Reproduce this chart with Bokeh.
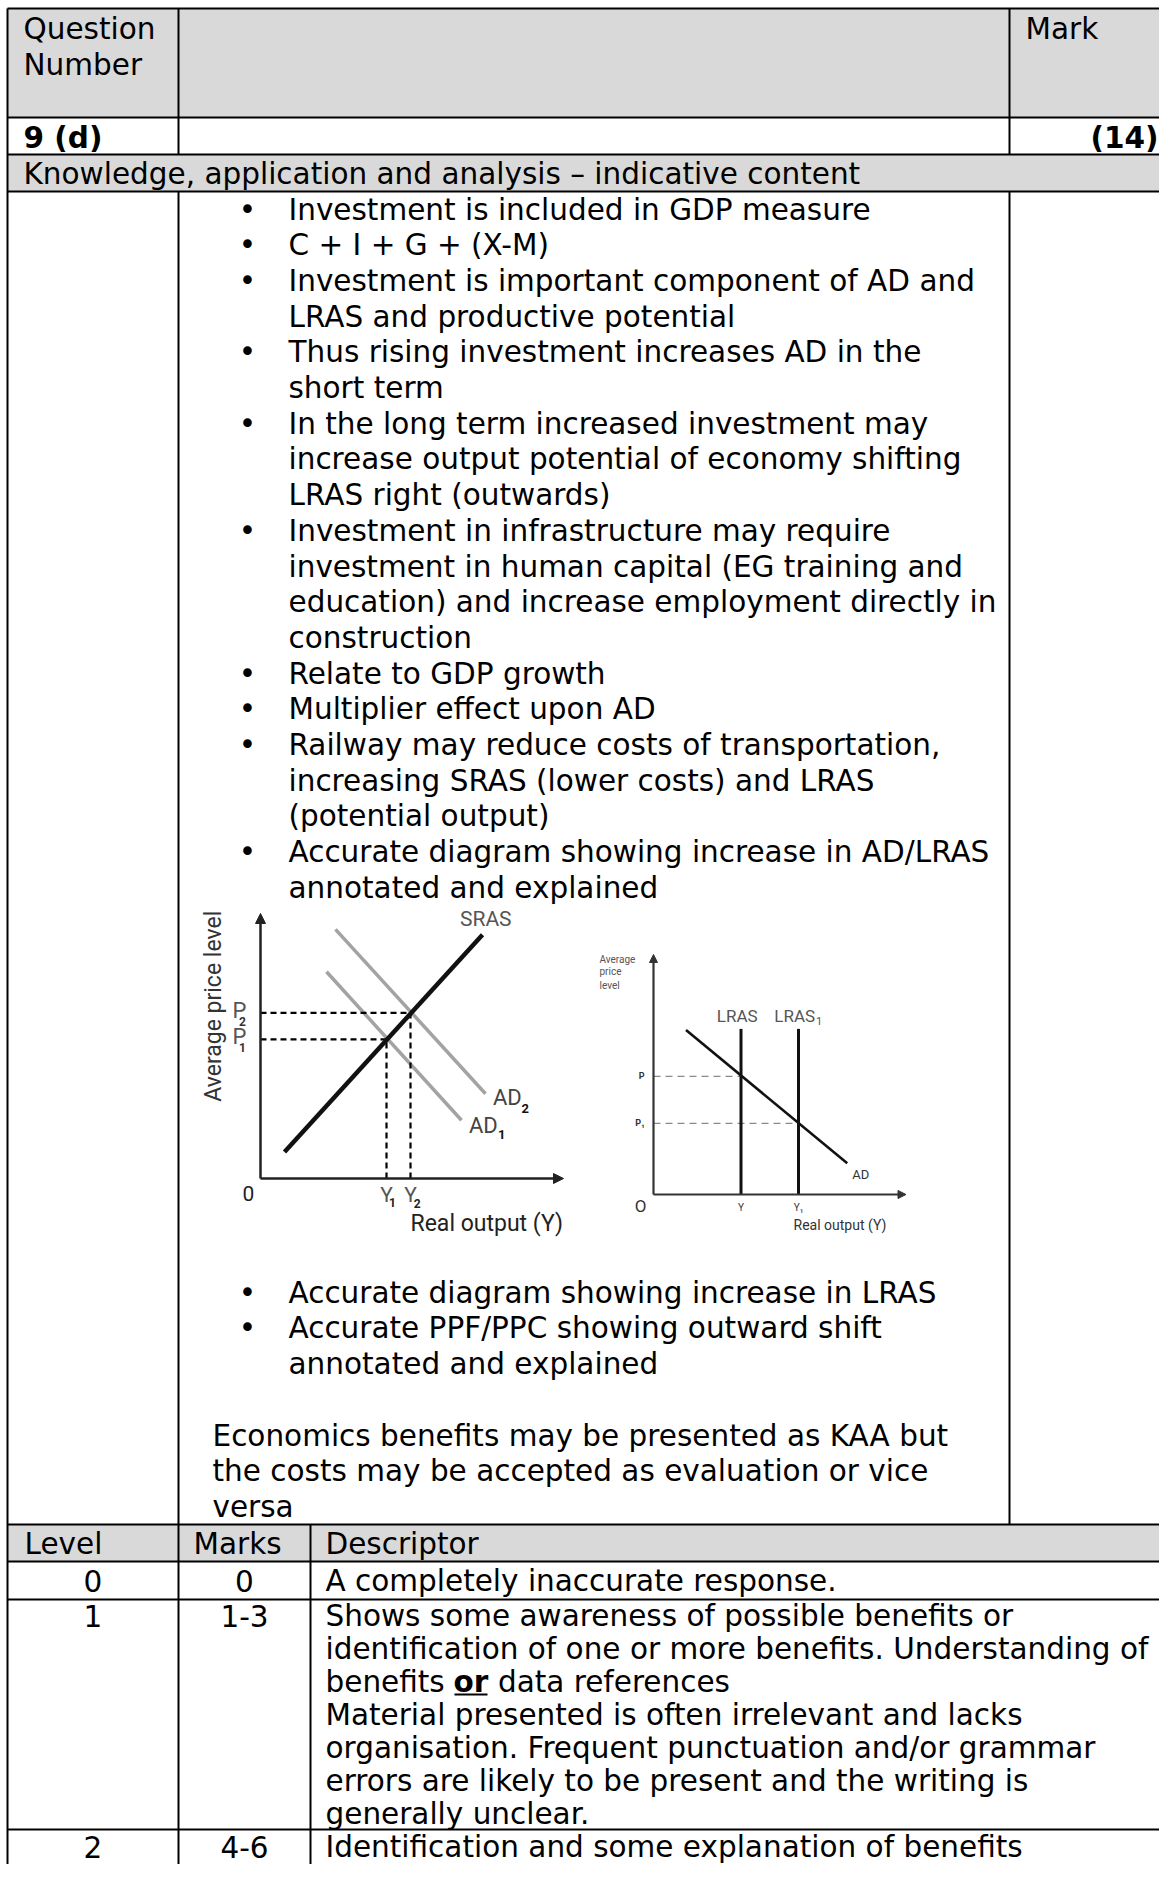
import math
from bokeh.plotting import figure
from bokeh.models import Range1d, Arrow, NormalHead, ColumnDataSource
from bokeh.core.properties import value
from bokeh.embed import file_html
from bokeh.resources import INLINE

# ---------------- content (text) ----------------
header_left = ["Question", "Number"]
header_mark = "Mark"
question_id = "9 (d)"
question_marks = "(14)"
section_title = "Knowledge, application and analysis \u2013 indicative content"

bullets_top = [
    ["Investment is included in GDP measure"],
    ["C + I + G + (X-M)"],
    ["Investment is important component of AD and", "LRAS and productive potential"],
    ["Thus rising investment increases AD in the", "short term"],
    ["In the long term increased investment may",
     "increase output potential of economy shifting",
     "LRAS right (outwards)"],
    ["Investment in infrastructure may require",
     "investment in human capital (EG training and",
     "education) and increase employment directly in",
     "construction"],
    ["Relate to GDP growth"],
    ["Multiplier effect upon AD"],
    ["Railway may reduce costs of transportation,",
     "increasing SRAS (lower costs) and LRAS",
     "(potential output)"],
    ["Accurate diagram showing increase in AD/LRAS", "annotated and explained"],
]
bullets_bottom = [
    ["Accurate diagram showing increase in LRAS"],
    ["Accurate PPF/PPC showing outward shift", "annotated and explained"],
]
note_lines = ["Economics benefits may be presented as KAA but",
              "the costs may be accepted as evaluation or vice",
              "versa"]

level_headers = ["Level", "Marks", "Descriptor"]
levels = ["0", "1", "2"]
marks = ["0", "1-3", "4-6"]
descriptors = [
    ["A completely inaccurate response."],
    ["Shows some awareness of possible benefits or",
     "identification of one or more benefits. Understanding of",
     None,  # "benefits or data references" with bold underlined "or"
     "Material presented is often irrelevant and lacks",
     "organisation. Frequent punctuation and/or grammar",
     "errors are likely to be present and the writing is",
     "generally unclear."],
    ["Identification and some explanation of benefits"],
]
mixed_line = ["benefits", "or", "data references"]

# ---------------- diagram values (diagram units) ----------------
# Diagram 1: AD shift with SRAS
d1_sras_x = [0.8, 7.4]
d1_sras_y = [1.0, 9.2]
d1_ad1_x = [2.2, 6.7]
d1_ad1_y = [7.8, 2.2]
d1_ad2_x = [2.5, 7.5]
d1_ad2_y = [9.4, 3.2]
d1_price = [5.25, 6.25]     # P1, P2
d1_output = [4.2, 5.0]      # Y1, Y2
d1_axis_max = [10.1, 10.0]

# Diagram 2: LRAS shift
d2_lras_x = [3.5, 5.8]      # LRAS, LRAS1
d2_lras_top = 6.9
d2_ad_x = [1.3, 7.75]
d2_ad_y = [6.85, 1.3]
d2_price = [4.92, 2.96]     # P, P1
d2_axis_max = [10.1, 10.0]

# ---------------- page / figure ----------------
W, H = 1159, 1864
MAIN_FONT = "DejaVu Sans"
FS = "29.5px"
LH = 35.7
LH_ROW = 33.0

p = figure(width=W, height=H, x_range=Range1d(0, W), y_range=Range1d(H, 0),
           output_backend="svg", toolbar_location=None,
           x_axis_location=None, y_axis_location=None, title=None, min_border=0)
p.outline_line_color = None
p.grid.visible = False
p.background_fill_color = "white"
p.border_fill_color = "white"


def txt(xs, ys, texts, size=FS, style="normal", align="left", color="black",
        font=MAIN_FONT, baseline="middle", angle=0.0, rng=None):
    src = ColumnDataSource(dict(x=list(xs), y=list(ys), text=list(texts)))
    kw = {}
    if rng:
        kw = dict(x_range_name=rng + "x", y_range_name=rng + "y")
    p.text(x="x", y="y", text="text", source=src, text_font=value(font),
           text_font_size=value(size), text_font_style=style, text_align=align,
           text_baseline=baseline, text_color=color, angle=angle, **kw)


# table layout (page pixels of the reference)
XL, XR = 7, W
X_C1, X_C2, X_C3 = 178, 1009, 310
Y_TOP, Y_H1, Y_H2, Y_H3 = 8, 117, 154, 191
Y_B1, Y_B2, Y_B3, Y_B4 = 1524, 1561, 1599, 1829
Y_END = H

# gray fills
p.quad(left=[XL, XL, XL], right=[XR, XR, XR], top=[Y_TOP, Y_H2, Y_B1],
       bottom=[Y_H1, Y_H3, Y_B2], fill_color="#d9d9d9", line_color=None)

# rules
hy = [Y_TOP, Y_H1, Y_H2, Y_H3, Y_B1, Y_B2, Y_B3, Y_B4]
p.segment(x0=[XL] * len(hy), y0=hy, x1=[XR] * len(hy), y1=hy, line_color="black", line_width=2)
vx = [XL, X_C1, X_C1, X_C2, X_C2, X_C3]
vy0 = [Y_TOP, Y_TOP, Y_H3, Y_TOP, Y_H3, Y_B1]
vy1 = [Y_END, Y_H2, Y_END, Y_H2, Y_B1, Y_END]
p.segment(x0=vx, y0=vy0, x1=vx, y1=vy1, line_color="black", line_width=2)

# header texts
txt([23, 23], [28, 64], header_left)
txt([1025], [28], [header_mark])
txt([23], [137], [question_id], style="bold")
txt([1158], [137], [question_marks], style="bold", align="right")
txt([23], [173], [section_title])

# bullets top
BX, TX = 247, 288
bx, by, tx, ty, tt = [], [], [], [], []
k = 0
for b in bullets_top:
    bx.append(BX); by.append(209 + LH * k)
    for line in b:
        tx.append(TX); ty.append(209 + LH * k); tt.append(line)
        k += 1
k = 0
for b in bullets_bottom:
    bx.append(BX); by.append(1292 + LH * k)
    for line in b:
        tx.append(TX); ty.append(1292 + LH * k); tt.append(line)
        k += 1
txt(tx, ty, tt)
txt(bx, by, ["\u2022"] * len(bx), align="center")

# note
txt([212] * len(note_lines), [1435 + LH * i for i in range(len(note_lines))], note_lines)

# level table
txt([24, 193, 325], [1543] * 3, level_headers)
row_center = [1580, 1615, 1846]
txt([92.5] * 3, row_center, levels, align="center")
txt([244] * 3, row_center, marks, align="center")
dx, dy, dt = [], [], []
mixed_y = None
for r, lines in enumerate(descriptors):
    for i, line in enumerate(lines):
        yy = row_center[r] + LH_ROW * i
        if line is None:
            mixed_y = yy
            continue
        dx.append(325); dy.append(yy); dt.append(line)
txt(dx, dy, dt)
# mixed line with bold underlined "or"
x_or = 325 + 128
txt([325], [mixed_y], [mixed_line[0]])
txt([x_or], [mixed_y], [mixed_line[1]], style="bold")
txt([x_or + 35 + 9.4], [mixed_y], [mixed_line[2]])
p.segment(x0=[x_or + 1], y0=[mixed_y + 13], x1=[x_or + 34], y1=[mixed_y + 13],
          line_color="black", line_width=2.2)


# ---------------- diagrams via extra ranges ----------------
def add_ranges(name, x0_px, kx, y0_px, ky):
    xs = -x0_px / kx
    ys = (y0_px - H) / ky
    p.extra_x_ranges[name + "x"] = Range1d(xs, xs + W / kx)
    p.extra_y_ranges[name + "y"] = Range1d(ys, ys + H / ky)


add_ranges("d1", 260, 30.0, 1178, 26.5)
add_ranges("d2", 653, 25.0, 1194, 24.0)
R1 = dict(x_range_name="d1x", y_range_name="d1y")
R2 = dict(x_range_name="d2x", y_range_name="d2y")
DFONT = "Roboto"

# diagram 1
p.line(d1_ad2_x, d1_ad2_y, line_color="#a3a3a3", line_width=3.5, **R1)
p.line(d1_ad1_x, d1_ad1_y, line_color="#a3a3a3", line_width=3.5, **R1)
p.segment(x0=[0, 0], y0=d1_price, x1=d1_output, y1=d1_price,
          line_color="black", line_width=2.2, line_dash="6 4", **R1)
p.segment(x0=d1_output, y0=[0, 0], x1=d1_output, y1=d1_price,
          line_color="black", line_width=2.2, line_dash="6 4", **R1)
p.line(d1_sras_x, d1_sras_y, line_color="#111111", line_width=4.5, **R1)
for xe, ye in [(d1_axis_max[0], 0), (0, d1_axis_max[1])]:
    p.add_layout(Arrow(end=NormalHead(size=10, line_color="#222222", fill_color="#222222",
                                      line_width=1),
                       x_start=0, y_start=0, x_end=xe, y_end=ye,
                       line_color="#222222", line_width=2.5, **R1))
txt([d1_sras_x[1] - 0.75], [d1_sras_y[1] + 0.6], ["SRAS"], size="21px", color="#555555",
    font=DFONT, rng="d1")
txt([d1_ad2_x[1] + 0.25, d1_ad1_x[1] + 0.25], [d1_ad2_y[1] - 0.15, d1_ad1_y[1] - 0.2],
    ["AD", "AD"], size="22px", color="#444444", font=DFONT, rng="d1")
txt([d1_ad2_x[1] + 1.2, d1_ad1_x[1] + 1.22], [d1_ad2_y[1] - 0.55, d1_ad1_y[1] - 0.55],
    ["2", "1"], size="13px", style="bold", color="#111111", font=DFONT, rng="d1")
txt([-0.93, -0.93], [d1_price[0] + 0.1, d1_price[1] + 0.1], ["P", "P"], size="22px",
    color="#555555", font=DFONT, rng="d1")
txt([-0.6, -0.6], [d1_price[0] - 0.32, d1_price[1] - 0.32], ["1", "2"], size="12px",
    style="bold", color="#333333", font=DFONT, align="center", rng="d1")
txt(d1_output, [-0.64, -0.64], ["Y", "Y"], size="21px", color="#555555", font=DFONT,
    align="center", rng="d1")
txt([d1_output[0] + 0.2, d1_output[1] + 0.22], [-0.92, -0.95], ["1", "2"], size="12px",
    style="bold", color="#222222", font=DFONT, align="center", rng="d1")
txt([-0.4], [-0.57], ["0"], size="21px", color="#222222", font=DFONT, align="center",
    rng="d1")
txt([5.0], [-1.7], ["Real output (Y)"], size="23px", color="#222222", font=DFONT,
    rng="d1")
txt([-1.57], [6.5], ["Average price level"], size="23px", color="#333333", font=DFONT,
    align="center", angle=math.pi / 2, rng="d1")

# diagram 2
p.segment(x0=[0, 0], y0=d2_price, x1=d2_lras_x, y1=d2_price,
          line_color="#8a8a8a", line_width=1.2, line_dash="7 5", **R2)
p.segment(x0=d2_lras_x, y0=[0, 0], x1=d2_lras_x, y1=[d2_lras_top] * 2,
          line_color="#111111", line_width=3, **R2)
p.line(d2_ad_x, d2_ad_y, line_color="#111111", line_width=2.6, **R2)
for xe, ye in [(d2_axis_max[0], 0), (0, d2_axis_max[1])]:
    p.add_layout(Arrow(end=NormalHead(size=8, line_color="#333333", fill_color="#333333",
                                      line_width=1),
                       x_start=0, y_start=0, x_end=xe, y_end=ye,
                       line_color="#333333", line_width=2.2, **R2))
txt([-2.16] * 3, [9.79, 9.29, 8.71], ["Average", "price", "level"], size="10px",
    color="#555555", font=DFONT, rng="d2")
txt([d2_lras_x[0] - 0.15, d2_lras_x[1] - 0.15], [d2_lras_top + 0.55] * 2, ["LRAS", "LRAS"],
    size="17px", color="#555555", font=DFONT, align="center", rng="d2")
txt([d2_lras_x[1] + 0.7], [d2_lras_top + 0.35], ["1"], size="11px", color="#555555",
    font=DFONT, rng="d2")
txt([-0.36, -0.36], d2_price, ["P", "P\u2081"], size="9px", style="bold", color="#333333",
    font=DFONT, align="right", rng="d2")
txt([d2_ad_x[1] + 0.2], [d2_ad_y[1] - 0.45], ["AD"], size="13px", color="#333333",
    font=DFONT, rng="d2")
txt([-0.52], [-0.48], ["O"], size="17px", color="#333333", font=DFONT, align="center",
    rng="d2")
txt(d2_lras_x, [-0.55, -0.55], ["Y", "Y\u2081"], size="10px", color="#333333", font=DFONT,
    align="center", rng="d2")
txt([5.6], [-1.25], ["Real output (Y)"], size="14px", color="#333333", font=DFONT,
    rng="d2")

open("out.html", "w").write(file_html(p, INLINE))
